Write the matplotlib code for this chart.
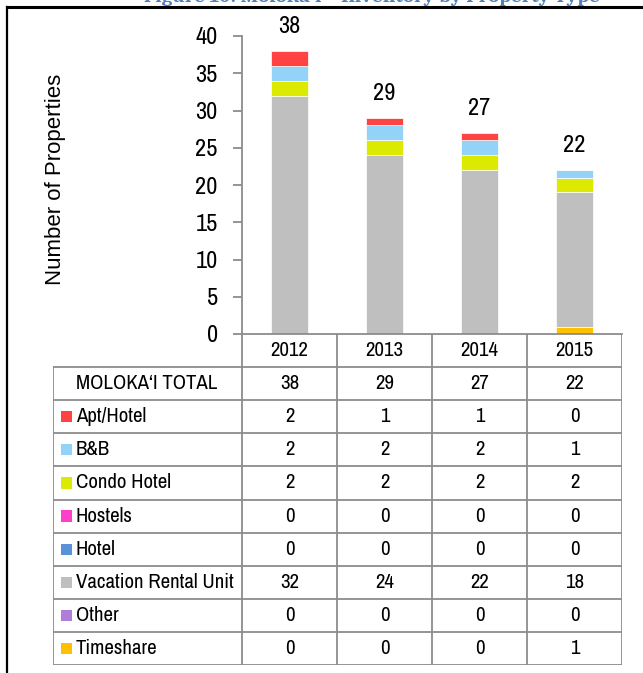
import matplotlib
matplotlib.use('Agg')
import matplotlib.pyplot as plt
from matplotlib.lines import Line2D
from matplotlib.patches import Rectangle

# data
years = ['2012', '2013', '2014', '2015']
types = ['Apt/Hotel', 'B&B', 'Condo Hotel', 'Hostels', 'Hotel',
         'Vacation Rental Unit', 'Other', 'Timeshare']
apt_hotel = [2, 1, 1, 0]
bnb = [2, 2, 2, 1]
condo_hotel = [2, 2, 2, 2]
hostels = [0, 0, 0, 0]
hotel = [0, 0, 0, 0]
vacation_rental = [32, 24, 22, 18]
other = [0, 0, 0, 0]
timeshare = [0, 0, 0, 1]
totals = [38, 29, 27, 22]
colors = ['#FF4343', '#93D3F8', '#DCE900', '#FF3FCB', '#5A92D8',
          '#BFBFBF', '#AE7ED9', '#FFC000']

series = [apt_hotel, bnb, condo_hotel, hostels, hotel, vacation_rental, other, timeshare]

W, H = 643, 673
narrow = ['Archivo Narrow', 'Liberation Sans', 'DejaVu Sans']
grid_c = '#8C8C8C'

def fx(px):
    return px / W

def fy(py):
    return 1 - py / H

fig = plt.figure(figsize=(W / 100, H / 100), dpi=100)

# bar chart
ax = fig.add_axes([fx(242), fy(334), fx(622) - fx(242), fy(36) - fy(334)])
x = range(len(years))
bottom = [0] * len(years)
# stack from the last row of the table upward
for vals, col in zip(series[::-1], colors[::-1]):
    ax.bar(x, vals, width=0.39, bottom=bottom, color=col, edgecolor='white', linewidth=0.5)
    bottom = [b + v for b, v in zip(bottom, vals)]
for i, t in enumerate(totals):
    ax.annotate(str(t), (i, t), xytext=(0, 10), textcoords='offset points',
                ha='center', va='bottom', fontsize=17.5, family=narrow)
ax.set_xlim(-0.5, 3.5)
ax.set_ylim(0, 40)
ax.set_yticks(range(0, 41, 5))
ax.set_xticks([])
for s in ['top', 'right']:
    ax.spines[s].set_visible(False)
for s in ['left', 'bottom']:
    ax.spines[s].set_color(grid_c)
    ax.spines[s].set_linewidth(1.3)
ax.tick_params(axis='y', length=6.5, width=1.3, color=grid_c, pad=11, labelsize=17.5)
for lab in ax.get_yticklabels():
    lab.set_family(narrow)
ax.patch.set_visible(False)

fig.text(fx(56), fy(179), 'Number of Properties', rotation=90, ha='center', va='center',
         fontsize=16, family=['Liberation Sans', 'DejaVu Sans'])

# data table under the chart
tb = fig.add_axes([fx(53), fy(665), fx(622) - fx(53), fy(334) - fy(665)])
tb.set_xlim(-2.49, 3.5)
tb.set_ylim(10, 0)
tb.axis('off')
lw = 1.3
for r in range(1, 11):
    tb.plot([-2.49, 3.5], [r, r], color=grid_c, lw=lw, solid_capstyle='projecting')
tb.plot([-2.49, -2.49], [1, 10], color=grid_c, lw=lw)
for c in [-0.5, 0.5, 1.5, 2.5, 3.5]:
    tb.plot([c, c], [0, 10], color=grid_c, lw=lw)
fs = 15
for j, yr in enumerate(years):
    tb.text(j, 0.5, yr, ha='center', va='center', fontsize=fs, family=narrow)
    tb.text(j, 1.5, str(totals[j]), ha='center', va='center', fontsize=fs, family=narrow)
tb.text(-1.5, 1.5, 'MOLOKA\u2018I TOTAL', ha='center', va='center', fontsize=fs, family=narrow)
for i, (name, vals, col) in enumerate(zip(types, series, colors)):
    r = i + 2.5
    tb.add_patch(Rectangle((-2.41, r - 0.17), 0.117, 0.34, color=col, lw=0))
    tb.text(-2.25, r, name, ha='left', va='center', fontsize=fs, family=narrow)
    for j, v in enumerate(vals):
        tb.text(j, r, str(v), ha='center', va='center', fontsize=fs, family=narrow)

# page frame and clipped caption
fig.add_artist(Line2D([fx(7), fx(7)], [fy(7), 0], color='black', lw=1.6))
fig.add_artist(Line2D([fx(7), 1], [fy(7), fy(7)], color='black', lw=2.2))
fig.text(fx(372), fy(2.5), 'Figure 10: Moloka\u2018i \u2013 Inventory by Property Type', ha='center',
         va='baseline', fontsize=15, fontweight='bold', color='#4F81BD',
         family=['Caladea', 'Liberation Serif', 'DejaVu Serif'])

fig.savefig('out.png', dpi=100)
